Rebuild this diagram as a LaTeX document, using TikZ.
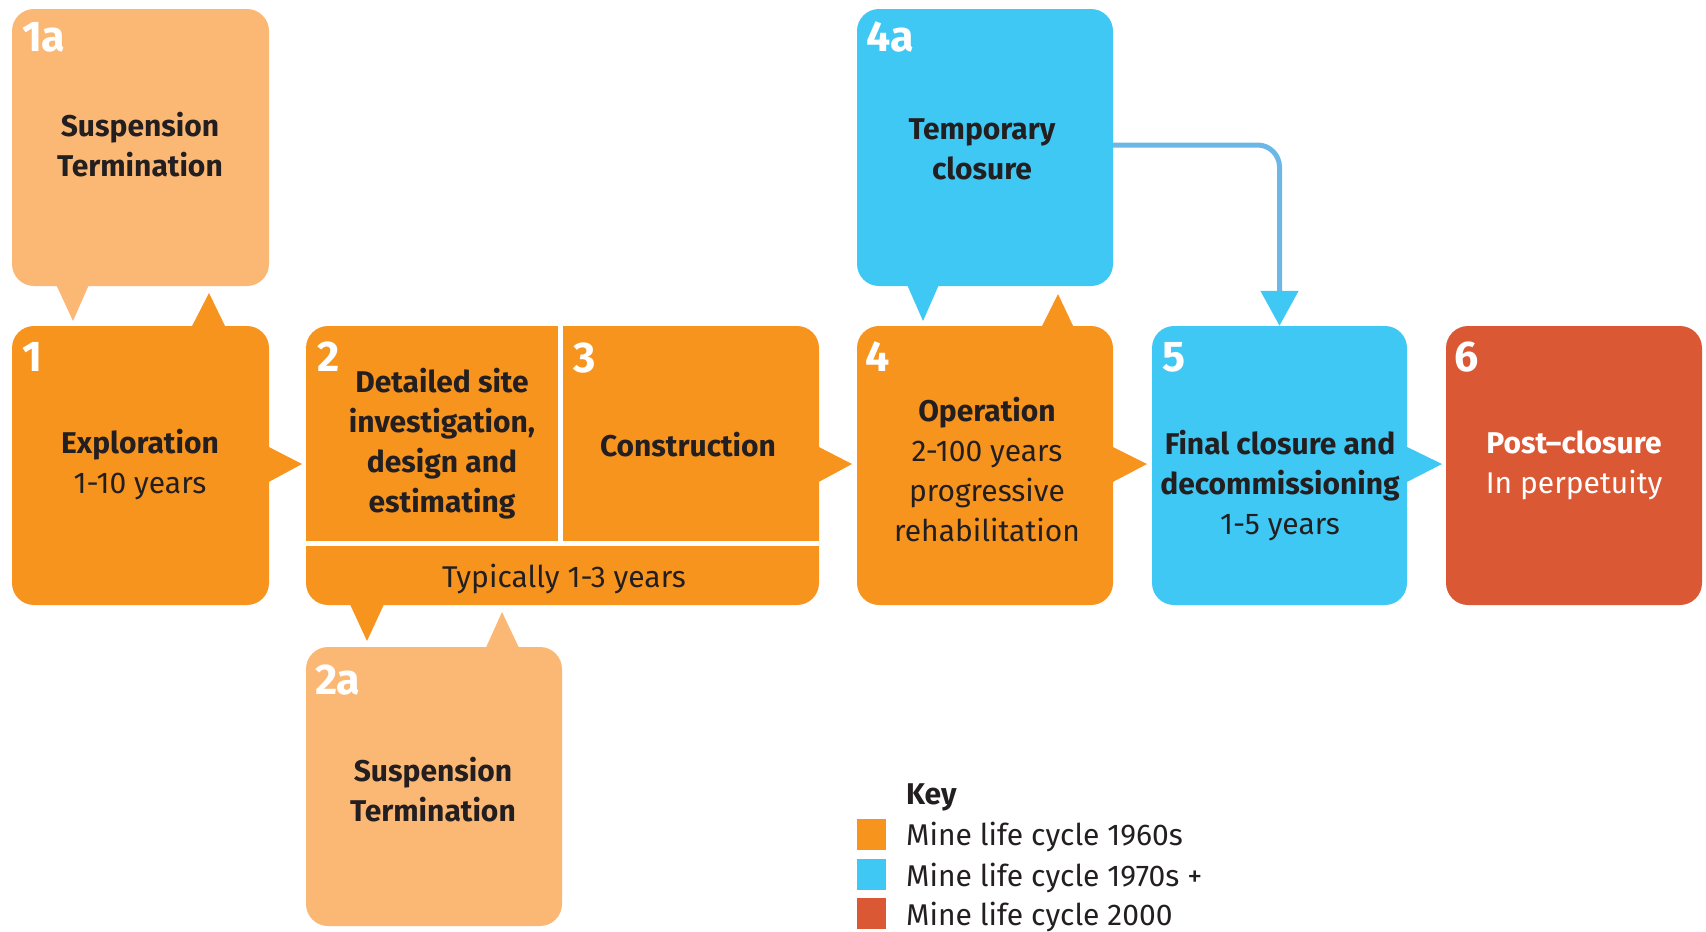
\documentclass[tikz,border=0pt]{standalone}
\usepackage{fontspec}
\setmainfont{Fira Sans}
\usetikzlibrary{arrows.meta,calc}
\definecolor{orng}{HTML}{F7941E}
\definecolor{lorng}{HTML}{FBB874}
\definecolor{cyn}{HTML}{3FC8F4}
\definecolor{rd}{HTML}{DB5835}
\definecolor{lnblue}{HTML}{6CB7E6}
\definecolor{ink}{HTML}{231F20}
\begin{document}
\begin{tikzpicture}[x=1pt,y=-1pt,
 box/.style={rectangle, rounded corners=22pt, minimum width=257pt, minimum height=279pt, inner sep=0pt, draw=none},
 txt/.style={align=center, text=ink, font=\fontsize{30}{40}\selectfont, inner sep=0pt},
 num/.style={anchor=base west, text=white, font=\bfseries\fontsize{43}{43}\selectfont, inner sep=0pt},
 keytxt/.style={anchor=west, text=ink, font=\fontsize{30}{36}\selectfont, inner sep=0pt},
 swatch/.style={rectangle, minimum width=29pt, minimum height=31pt, inner sep=0pt},
 conn/.style={draw=lnblue, line width=5pt, rounded corners=22pt}
]
\useasboundingbox (0,0) rectangle (1706,932);

% tails and arrow heads
\fill[lorng] (54,280) -- (91,280) -- (73,321) -- cycle;
\fill[orng] (190,330) -- (227,330) -- (209,293) -- cycle;
\fill[orng] (265,445) -- (265,484) -- (302,464) -- cycle;
\fill[orng] (348,600) -- (386,600) -- (367,641) -- cycle;
\fill[lorng] (484,652) -- (521,652) -- (502,612) -- cycle;
\fill[orng] (815,445) -- (815,484) -- (852,464) -- cycle;
\fill[cyn] (905,280) -- (941,280) -- (923,321) -- cycle;
\fill[orng] (1040,330) -- (1075,330) -- (1058,294) -- cycle;
\fill[orng] (1109,445) -- (1109,484) -- (1147,464) -- cycle;
\fill[cyn] (1403,445) -- (1403,484) -- (1442,464) -- cycle;

% boxes
\node[box, fill=lorng, minimum height=277pt] (b1a) at (140.5,147.5) {};
\node[box, fill=orng] (b1) at (140.5,465.5) {};
\node[box, fill=orng, minimum width=513pt] (b23) at (562.5,465.5) {};
\node[box, fill=lorng, minimum width=256pt] (b2a) at (434,786.5) {};
\node[box, fill=cyn, minimum width=256pt, minimum height=277pt] (b4a) at (985,147.5) {};
\node[box, fill=orng, minimum width=256pt] (b4) at (985,465.5) {};
\node[box, fill=cyn, minimum width=255pt] (b5) at (1279.5,465.5) {};
\node[box, fill=rd, minimum width=256pt] (b6) at (1574,465.5) {};

% dividers in box 2/3
\coordinate (dv) at (560,326);
\coordinate (dh) at (560,543);
\draw[white, line width=5pt] (dv) -- (dh);
\draw[white, line width=5pt] (b23.west |- dh) -- (b23.east |- dh);

% connector 4a -> 5
\draw[conn, -{Triangle[length=35pt,width=37pt,color=cyn]}] ($(b4a.east)+(0,-2.5)$) -| (b5.north);

% numbers
\node[num] at ($(b1a.north west)+(10,43)$) {1a};
\node[num] at ($(b1.north west)+(10,46)$) {1};
\node[num] at ($(b23.north west)+(11,46)$) {2};
\node[num] at ($(dv)+(13,46)$) {3};
\node[num] at ($(b2a.north west)+(9,48)$) {2a};
\node[num] at ($(b4a.north west)+(9,43)$) {4a};
\node[num] at ($(b4.north west)+(8,46)$) {4};
\node[num] at ($(b5.north west)+(10,46)$) {5};
\node[num] at ($(b6.north west)+(8,46)$) {6};

% texts
\node[txt, font=\bfseries\fontsize{30}{40}\selectfont] (t1a) at (140,145) {Suspension\\Termination};
\node[txt] (t1) at (140,465) {\textbf{Exploration}\\1-10 years};
\node[txt, font=\bfseries\fontsize{30}{40}\selectfont] (t2) at (442,444) {Detailed site\\investigation,\\design and\\estimating};
\node[txt, font=\bfseries\fontsize{30}{40}\selectfont] (t3) at (688,445) {Construction};
\node[txt] (ttyp) at (564,579) {Typically 1-3 years};
\node[txt, font=\bfseries\fontsize{30}{40}\selectfont] (t2a) at (433,790) {Suspension\\Termination};
\node[txt, font=\bfseries\fontsize{30}{40}\selectfont] (t4a) at (982,149) {Temporary\\closure};
\node[txt] (t4) at (987,470) {\textbf{Operation}\\2-100 years\\progressive\\rehabilitation};
\node[txt] (t5) at (1280,486) {\textbf{Final closure and}\\\textbf{decommissioning}\\1-5 years};
\node[txt, text=white] (t6) at (1574,465) {\textbf{Post–closure}\\In perpetuity};

% key
\node[keytxt, font=\bfseries\fontsize{30}{36}\selectfont] (kt) at (906,797) {Key};
\node[swatch, fill=orng] (s1) at (871.5,834.5) {};
\node[swatch, fill=cyn] (s2) at (871.5,874.5) {};
\node[swatch, fill=rd] (s3) at (871.5,913.5) {};
\node[keytxt] (k1) at (906,837) {Mine life cycle 1960s};
\node[keytxt] (k2) at (906,877.5) {Mine life cycle 1970s +};
\node[keytxt] (k3) at (906,916.5) {Mine life cycle 2000};
\end{tikzpicture}
\end{document}
